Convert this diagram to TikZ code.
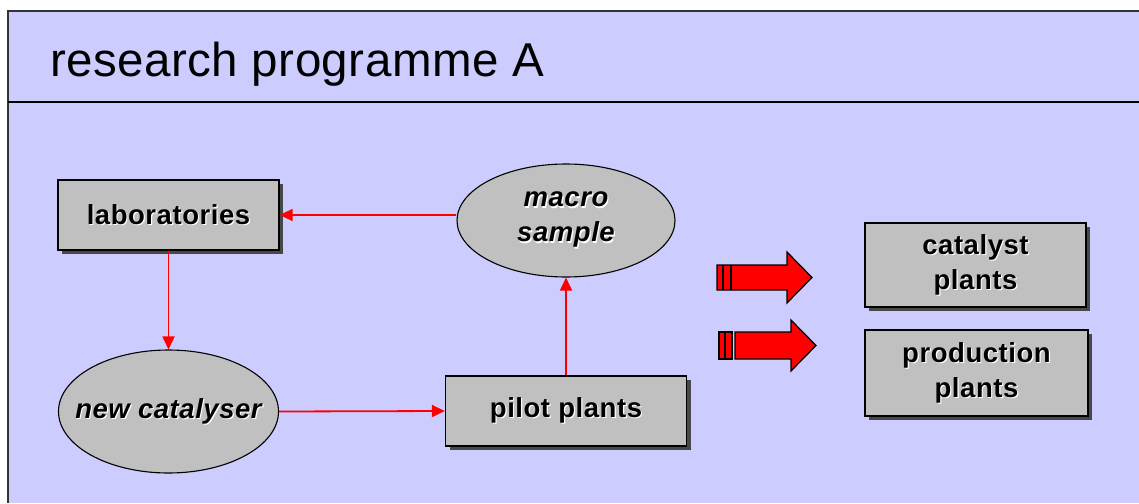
\documentclass[tikz,border=0pt]{standalone}
\usepackage{fontspec}
\setmainfont{Liberation Sans}
\usetikzlibrary{shapes.geometric,shadows,arrows.meta}
\definecolor{bgblue}{HTML}{CCCCFF}
\definecolor{boxgray}{HTML}{C0C0C0}
\definecolor{shadowgray}{HTML}{484848}
\definecolor{arrred}{HTML}{FF0000}
\newcommand\hltext[1]{\leavevmode\rlap{\kern1.2pt\raisebox{-1.2pt}{\textcolor{white}{#1}}}#1}
\tikzset{
  boxtext/.style={font=\fontsize{27.5}{35}\selectfont\bfseries\addfontfeatures{LetterSpace=2}, align=center, text=black},
  rectbox/.style={boxtext, draw=black, line width=1.3pt, fill=boxgray, rectangle, inner sep=0pt,
    drop shadow={shadow xshift=4pt, shadow yshift=-4pt, fill=shadowgray, opacity=1}},
  ellbox/.style={boxtext, draw=black, line width=1.1pt, fill=boxgray, ellipse, inner sep=0pt},
  conn/.style={draw=arrred, line width=1.8pt, -{Triangle[length=13pt,width=12pt]}},
  blockarrow/.style={fill=arrred, draw=black, line width=1.2pt, line join=miter},
}
\begin{document}
\begin{tikzpicture}[x=1pt,y=-1pt]
\useasboundingbox (0,0) rectangle (1139,503);
\fill[white] (0,0) rectangle (1139,503);
\fill[bgblue] (8,11) rectangle (1139,503);
\draw[black!80, line width=1.5pt] (8,503) -- (8,11) -- (1139,11);
\draw[black, line width=2pt] (8,102) -- (1139,102);
\node[anchor=base west, inner sep=0pt, font=\fontsize{47.5}{50}\selectfont\addfontfeatures{LetterSpace=1}] (title) at (50,77) {research programme A};

\node[rectbox, minimum width=221pt, minimum height=70pt] (lab) at (168.5,215) {\hltext{laboratories}};
\node[ellbox, minimum width=220pt, minimum height=123pt] (newcat) at (168.5,411.5) {\makebox[0pt]{\itshape\hltext{new catalyser}}};
\node[ellbox, minimum width=218pt, minimum height=113pt] (macro) at (566,220.5) {\itshape\hltext{macro}\\\itshape\hltext{sample}};
\node[rectbox, minimum width=241pt, minimum height=70pt] (pilot) at (566,411) {\hltext{pilot plants}};
\node[rectbox, minimum width=221pt, minimum height=84pt] (catp) at (975.5,265) {\hltext{catalyst}\\\hltext{plants}};
\node[rectbox, minimum width=223pt, minimum height=86pt] (prodp) at (976.5,373) {\hltext{production}\\\hltext{plants}};

\draw[conn] (macro.west |- lab.east) -- (lab.east);
\draw[conn] (lab.south) -- (newcat.north);
\draw[conn] (newcat.east) -- (pilot.west);
\draw[conn] (pilot.north) -- (macro.south);

% block arrow 1
\draw[blockarrow] (717,265) -- (787,265) -- (787,252) -- (812,277.5) -- (787,303) -- (787,290) -- (717,290) -- cycle;
\draw[black, line width=2pt] (723,265) -- (723,290);
\draw[black, line width=2.2pt] (731,265) -- (731,290);
% block arrow 2
\draw[blockarrow] (719,332) rectangle (732,359);
\draw[black, line width=2pt] (725,332) -- (725,359);
\draw[blockarrow] (735,332) -- (791,332) -- (791,320) -- (816,345.5) -- (791,371) -- (791,359) -- (735,359) -- cycle;
\end{tikzpicture}
\end{document}
